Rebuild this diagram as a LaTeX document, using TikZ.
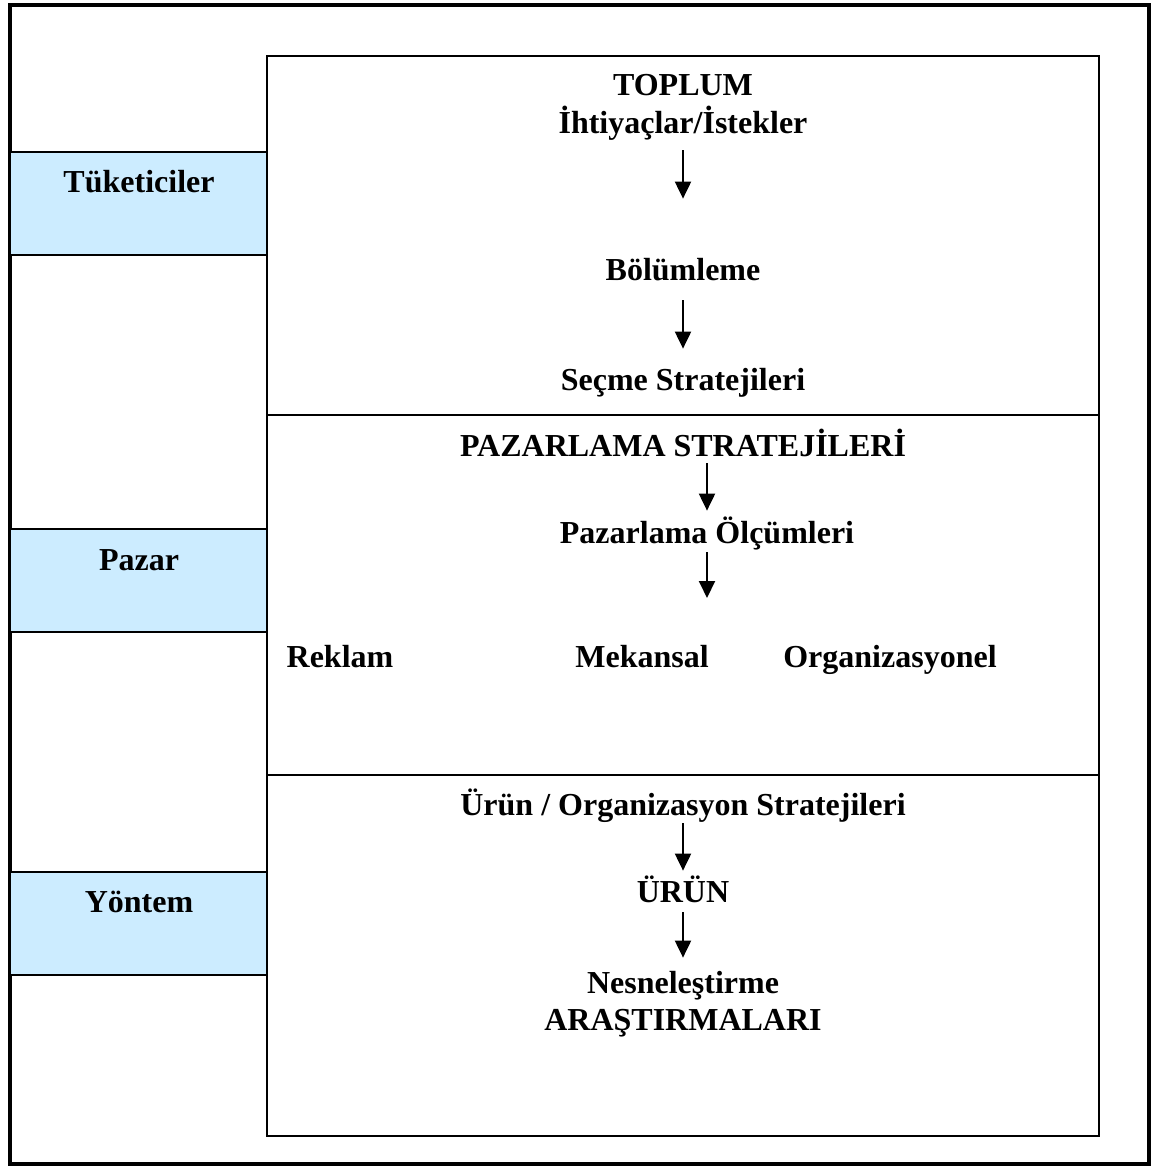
\documentclass[tikz,border=0pt]{standalone}
\usepackage{fontspec}
\setmainfont{Liberation Serif}
\usetikzlibrary{arrows.meta}

\definecolor{sideblue}{RGB}{204,236,255}

\tikzset{every picture/.style={line width=0.75pt}}
\tikzset{
  lbl/.style={anchor=base, inner sep=0pt, text height=22pt, text depth=7pt,
    font=\fontsize{32}{38}\selectfont\bfseries},
  sidebox/.style={draw, line width=2pt, fill=sideblue},
  flow/.style={line width=2pt, -{Triangle[width=16pt,length=17pt]}},
}

\begin{document}
\begin{tikzpicture}[x=1pt,y=1pt,yscale=-1,xscale=1]
\useasboundingbox (0,0) rectangle (1152,1166);

%Outer frame
\draw [line width=4pt] (10,5) rectangle (1149,1164) ;
%Side boxes
\draw [sidebox] (10,152) rectangle (267,255) ;
\draw [sidebox] (10,529) rectangle (267,632) ;
\draw [sidebox] (10,872) rectangle (267,975) ;
%Main box and its three parts
\draw [line width=2.5pt] (267,56) rectangle (1099,1136) ;
\draw [line width=2pt] (267,415) -- (1099,415) ;
\draw [line width=2pt] (267,775) -- (1099,775) ;

% Side labels
\node [lbl] (tuketici) at (139,193) {Tüketiciler};
\node [lbl] (pazar) at (139,570) {Pazar};
\node [lbl] (yontem) at (139,912) {Yöntem};

% Top part
\node [lbl] (toplum) at (683,96) {TOPLUM};
\node [lbl] (istek) at (683,134) {İhtiyaçlar/İstekler};
\node [lbl] (bolum) at (683,280) {Bölümleme};
\node [lbl] (secme) at (683,390) {Seçme Stratejileri};

% Middle part
\node [lbl] (pazstr) at (683,456) {PAZARLAMA STRATEJİLERİ};
\node [lbl] (olcum) at (707,543) {Pazarlama Ölçümleri};
\coordinate (olcumend) at (707,598);
\node [lbl] (reklam) at (340,667) {Reklam};
\node [lbl] (mekan) at (642,667) {Mekansal};
\node [lbl] (organ) at (890,667) {Organizasyonel};

% Bottom part
\node [lbl] (urunstr) at (683,815) {Ürün / Organizasyon Stratejileri};
\node [lbl] (urun) at (683,902) {ÜRÜN};
\node [lbl] (nesne) at (683,993) {Nesneleştirme};
\node [lbl] (arastir) at (683,1030) {ARAŞTIRMALARI};

% Arrows
\draw [flow, shorten <=9pt, shorten >=59pt] (istek.south) -- (bolum.north) ;
\draw [flow, shorten <=13pt, shorten >=19pt] (bolum.south) -- (secme.north) ;
\draw [flow, shorten >=10pt] (pazstr.south -| olcum.south) -- (olcum.north) ;
\draw [flow, shorten <=2pt] (olcum.south) -- (olcumend) ;
\draw [flow, shorten <=1pt, shorten >=9pt] (urunstr.south) -- (urun.north) ;
\draw [flow, shorten <=3pt, shorten >=13pt] (urun.south) -- (nesne.north) ;

\end{tikzpicture}
\end{document}
